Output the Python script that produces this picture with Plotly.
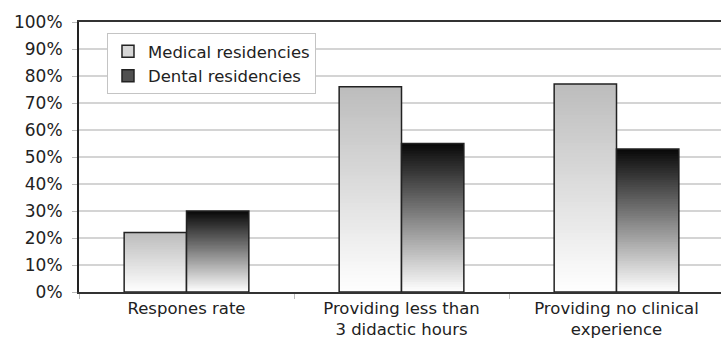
import plotly.graph_objects as go

categories = ["Respones rate", "Providing less than<br>3 didactic hours", "Providing no clinical<br>experience"]
medical = [22, 76, 77]
dental = [30, 55, 53]
series_names = ["Medical residencies", "Dental residencies"]

N = 60
BAR_W = 0.29

def lerp(c1, c2, t):
    return "rgb(%d,%d,%d)" % tuple(round(a + (b - a) * t) for a, b in zip(c1, c2))

fig = go.Figure()

specs = [
    (medical, -BAR_W, (255, 255, 255), (188, 188, 188), "rgb(215,215,215)"),
    (dental, 0.0, (255, 255, 255), (8, 8, 8), "rgb(80,80,80)"),
]

for (vals, off, cbot, ctop, legcol), name in zip(specs, series_names):
    # cumulative gradient: tallest (darkest) first, shorter lighter bars on top
    for i in range(N):
        frac = (N - i) / N
        t = (N - i - 0.5) / N
        fig.add_trace(go.Bar(
            x=categories, y=[v * frac for v in vals],
            width=BAR_W, offset=off, marker=dict(color=lerp(cbot, ctop, t), line=dict(width=0)),
            showlegend=False, hoverinfo="skip"))
    fig.add_trace(go.Bar(
        x=categories, y=vals, width=BAR_W, offset=off, name=name,
        marker=dict(color="rgba(0,0,0,0)", line=dict(color="#222", width=1.5)),
        showlegend=False))
    fig.add_trace(go.Bar(
        x=categories, y=[None] * len(vals), width=BAR_W, offset=off, name=name,
        marker=dict(color=legcol, line=dict(color="#222", width=1.5)),
        showlegend=True))

fig.update_layout(
    width=721, height=342,
    margin=dict(l=79, r=0, t=22, b=50),
    barmode="overlay",
    paper_bgcolor="white", plot_bgcolor="white",
    font=dict(family="DejaVu Sans", size=16, color="#222"),
    legend=dict(x=0.0436, y=0.959, xanchor="left", yanchor="top",
                bgcolor="white", bordercolor="#c4c4c4", borderwidth=1,
                font=dict(family="DejaVu Sans", size=16.5, color="#222"),
                tracegroupgap=0, itemwidth=30),
    xaxis=dict(type="category", range=[-0.5, 2.486], showgrid=False, automargin=False,
               showline=True, linecolor="#333", linewidth=2, mirror=True,
               ticks="outside", tickson="boundaries", ticklen=5, tickcolor="#bbb",
               ticklabelstandoff=0,
               tickfont=dict(family="DejaVu Sans", size=16.5, color="#222")),
    yaxis=dict(range=[0, 100], dtick=10, ticksuffix="%", automargin=False,
               showgrid=True, gridcolor="#d4d4d4", gridwidth=2,
               showline=True, linecolor="#222", linewidth=2,
               ticks="outside", ticklen=5, tickcolor="#bbb",
               ticklabelstandoff=6,
               tickfont=dict(family="DejaVu Sans", size=17, color="#222")),
)

fig.write_html("out.html")
